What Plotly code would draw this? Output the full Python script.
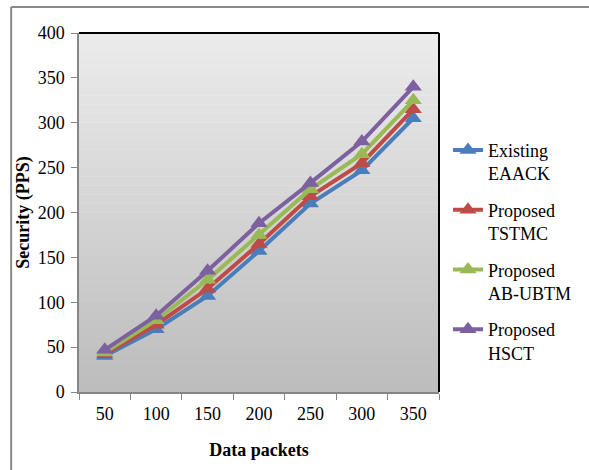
import plotly.graph_objects as go

packets = ["50", "100", "150", "200", "250", "300", "350"]
existing_eaack = [40, 70, 107, 157, 210, 247, 305]
proposed_tstmc = [42, 75, 115, 165, 218, 255, 315]
proposed_abubtm = [44, 80, 125, 175, 226, 265, 325]
proposed_hsct = [47, 85, 135, 188, 233, 279, 340]

names = ["Existing<br>EAACK", "Proposed<br>TSTMC", "Proposed<br>AB-UBTM", "Proposed<br>HSCT"]
colors = ["#4A7EBB", "#BE4B48", "#98B954", "#7D60A0"]
series = [existing_eaack, proposed_tstmc, proposed_abubtm, proposed_hsct]

FONT = "Liberation Serif"

fig = go.Figure()
for i, (nm, c, s) in enumerate(zip(names, colors, series)):
    fig.add_trace(go.Scatter(
        x=packets, y=s, name=nm, mode="lines+markers",
        line=dict(color=c, width=4),
        marker=dict(symbol="triangle-up", size=15, color=c),
        legendgroup=str(i),
    ))

# gradient plot background
shapes = []
N = 40
top = (236, 236, 236)
bot = (188, 188, 188)
for k in range(N):
    t = (k + 0.5) / N
    r = int(round(top[0] + (bot[0] - top[0]) * t))
    shapes.append(dict(type="rect", xref="x domain", yref="y domain",
                       x0=0, x1=1, y0=1 - (k + 1) / N, y1=1 - k / N + 0.001,
                       fillcolor=f"rgb({r},{r},{r})", line=dict(width=0),
                       layer="below"))
# black top & right borders of plot area
shapes.append(dict(type="line", xref="x domain", yref="y domain", x0=0, x1=1, y0=1, y1=1,
                   line=dict(color="black", width=2)))
shapes.append(dict(type="line", xref="x domain", yref="y domain", x0=1, x1=1, y0=0, y1=1,
                   line=dict(color="black", width=2)))
# outer frame (top & left visible)
shapes.append(dict(type="line", xref="paper", yref="paper", x0=-0.1885, x1=-0.1885, y0=-0.3, y1=1.0724,
                   line=dict(color="#8a8a8a", width=2)))
shapes.append(dict(type="line", xref="paper", yref="paper", x0=-0.1885, x1=1.5, y0=1.0724, y1=1.0724,
                   line=dict(color="#8a8a8a", width=2)))

fig.update_layout(
    width=589, height=470,
    margin=dict(l=79, r=144, t=33, b=78),
    paper_bgcolor="white",
    plot_bgcolor="rgba(0,0,0,0)",
    font=dict(family=FONT, size=18, color="black"),
    shapes=shapes,
    showlegend=True,
    legend=dict(x=1.025, y=0.725, xanchor="left", yanchor="top",
                font=dict(family=FONT, size=18, color="black"),
                traceorder="grouped", tracegroupgap=10, valign="top",
                bgcolor="rgba(0,0,0,0)"),
    xaxis=dict(
        type="category", range=[-0.5, 6.5],
        showline=True, linecolor="#868686", linewidth=1.5,
        ticks="outside", tickcolor="#868686", ticklen=6, tickson="boundaries",
        ticklabelstandoff=5,
        showgrid=False, zeroline=False,
        tickfont=dict(family=FONT, size=18),
        title=dict(text="<b>Data packets</b>", font=dict(family=FONT, size=18), standoff=20),
    ),
    yaxis=dict(
        range=[0, 400], dtick=50,
        showline=True, linecolor="#868686", linewidth=1.5,
        ticks="outside", tickcolor="#868686", ticklen=6,
        ticklabelstandoff=3,
        showgrid=False, zeroline=False,
        tickfont=dict(family=FONT, size=18),
        title=dict(text="<b>Security (PPS)</b>", font=dict(family=FONT, size=18), standoff=3),
    ),
)

fig.write_html("out.html")
